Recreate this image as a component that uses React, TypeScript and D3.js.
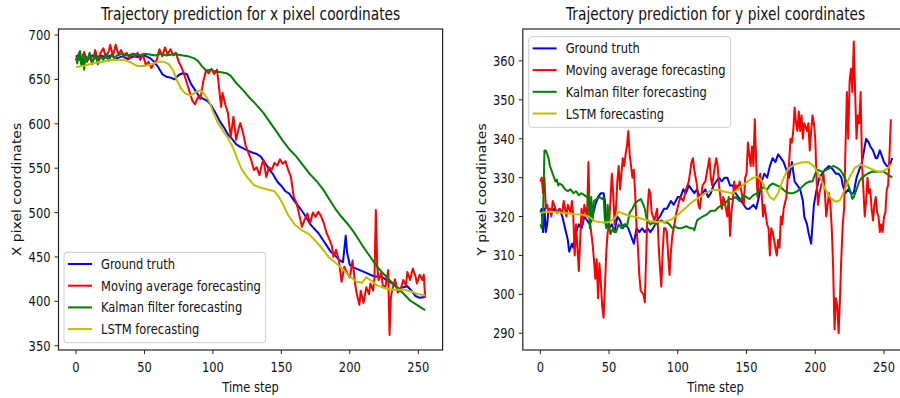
import * as d3 from 'd3';

type Pt = [number, number];

// ---- data: [time step, pixel coordinate] ----

const xTruth: Pt[] = [
  [0, 677], [3, 672], [6, 677], [9, 673], [12, 677], [15, 674], [18, 677], [22, 675], [26, 677], [30, 674],
  [34, 676], [38, 673], [42, 676], [46, 675], [50, 677], [54, 674], [57, 670], [60, 664], [63, 656], [66, 653],
  [69, 652], [72, 650], [75, 655], [78, 657], [81, 656], [84, 645], [87, 638], [90, 631], [93, 628], [96, 626],
  [99, 620], [102, 612], [105, 603], [108, 596], [111, 588], [114, 583], [117, 577], [120, 574], [124, 571], [128, 568],
  [132, 566], [135, 563], [138, 556], [141, 549], [144, 543], [147, 535], [150, 530], [153, 524], [156, 521], [159, 514],
  [162, 508], [165, 502], [168, 495], [171, 487], [174, 482], [177, 477], [180, 470], [183, 463], [186, 456], [189, 452],
  [192, 447], [195, 444], [197, 474], [198, 455], [200, 441], [203, 438], [206, 436], [209, 434], [212, 432], [215, 430],
  [218, 428], [221, 428], [224, 427], [227, 424], [230, 421], [233, 418], [236, 414], [239, 416], [242, 417], [245, 412],
  [248, 406], [251, 404], [255, 405],
];

const xMovingAvg: Pt[] = [
  [0, 672], [2, 678], [4, 668], [6, 681], [8, 670], [10, 676], [12, 667], [14, 683], [16, 672], [18, 680],
  [20, 685], [22, 674], [24, 682], [25, 689], [27, 676], [29, 689], [31, 678], [33, 683], [35, 675], [37, 680],
  [39, 674], [41, 679], [43, 676], [45, 680], [47, 672], [49, 678], [51, 666], [53, 670], [55, 663], [57, 668],
  [59, 672], [61, 684], [63, 676], [65, 686], [67, 678], [69, 684], [71, 677], [73, 680], [75, 670], [77, 664],
  [79, 656], [81, 646], [83, 636], [85, 626], [87, 622], [89, 630], [91, 628], [93, 648], [95, 660], [97, 657],
  [99, 662], [101, 656], [103, 661], [104, 648], [106, 619], [107, 635], [109, 622], [111, 612], [113, 585], [115, 608],
  [117, 582], [119, 596], [120, 601], [122, 590], [124, 575], [126, 567], [128, 559], [130, 548], [132, 551], [134, 542],
  [136, 556], [137, 559], [139, 540], [141, 551], [143, 548], [145, 556], [147, 553], [149, 560], [151, 555], [153, 558],
  [155, 548], [157, 540], [159, 518], [161, 511], [163, 498], [165, 484], [167, 492], [169, 499], [171, 488], [173, 500],
  [175, 495], [177, 501], [179, 496], [181, 488], [183, 477], [185, 470], [187, 462], [188, 450], [190, 458], [192, 446],
  [194, 422], [196, 439], [198, 432], [200, 427], [202, 446], [204, 418], [205, 409], [207, 396], [208, 412], [210, 398],
  [212, 416], [214, 408], [215, 420], [217, 412], [218, 426], [219, 503], [220, 440], [221, 424], [223, 432], [224, 418],
  [226, 416], [228, 435], [229, 362], [230, 405], [231, 413], [233, 425], [235, 410], [237, 413], [239, 424], [241, 418],
  [242, 433], [244, 424], [246, 437], [248, 428], [249, 420], [251, 430], [253, 424], [254, 430], [255, 404],
];

const xKalman: Pt[] = [
  [0, 674], [1, 668], [2, 679], [3, 682], [4, 665], [5, 678], [6, 661], [7, 676], [8, 670], [10, 680],
  [12, 668], [14, 678], [16, 667], [18, 676], [20, 672], [22, 679], [24, 671], [26, 678], [28, 674], [30, 677],
  [34, 679], [38, 677], [42, 679], [46, 677], [50, 679], [54, 678], [58, 677], [62, 679], [66, 677], [70, 678],
  [74, 678], [78, 677], [82, 676], [86, 674], [89, 671], [92, 665], [95, 660], [98, 661], [102, 659], [106, 658],
  [110, 657], [113, 654], [117, 646], [122, 638], [127, 629], [132, 621], [137, 612], [142, 601], [147, 590], [151, 581],
  [156, 571], [161, 563], [166, 553], [171, 543], [176, 535], [181, 525], [185, 515], [190, 503], [194, 495], [198, 488],
  [202, 480], [205, 473], [210, 461], [215, 450], [220, 439], [224, 432], [229, 424], [234, 416], [239, 409], [244, 401],
  [249, 396], [252, 393], [255, 390],
];

const xLstm: Pt[] = [
  [0, 664], [5, 665], [10, 667], [15, 669], [20, 670], [25, 672], [30, 672], [35, 672], [40, 669], [45, 665],
  [50, 665], [55, 667], [60, 670], [64, 670], [68, 667], [71, 660], [74, 648], [77, 639], [80, 634], [84, 632],
  [88, 636], [91, 638], [94, 633], [97, 626], [100, 614], [103, 603], [107, 593], [111, 584], [115, 572], [118, 560],
  [121, 549], [125, 540], [130, 531], [135, 528], [140, 526], [145, 524], [148, 518], [151, 510], [155, 497], [160, 486],
  [165, 480], [170, 476], [175, 468], [180, 459], [185, 449], [190, 443], [195, 436], [200, 428], [205, 422], [209, 421],
  [212, 427], [216, 423], [220, 418], [225, 415], [230, 413], [235, 413], [240, 413], [245, 411], [250, 408], [255, 407],
];

const yTruth: Pt[] = [
  [0, 321], [1, 322], [2, 316], [3, 322], [4, 316], [5, 318], [6, 322], [8, 321], [10, 322], [12, 321],
  [14, 322], [16, 320], [18, 317], [20, 314], [21, 311], [23, 313], [24, 312], [26, 316], [28, 318], [30, 317],
  [32, 320], [34, 319], [36, 318], [38, 320], [40, 323], [42, 325], [44, 326], [46, 326], [47, 324], [48, 318],
  [50, 317], [52, 318], [54, 316], [56, 320], [58, 319], [60, 317], [62, 318], [64, 317], [66, 315], [68, 313],
  [70, 317], [72, 316], [74, 317], [76, 316], [78, 317], [80, 316], [82, 317], [85, 319], [87, 320], [90, 322],
  [92, 322], [95, 324], [97, 323], [100, 325], [102, 325], [104, 327], [106, 326], [108, 328], [110, 327], [112, 326],
  [114, 327], [116, 325], [118, 326], [120, 327], [122, 325], [124, 326], [126, 328], [128, 329], [130, 330], [132, 329],
  [134, 330], [136, 330], [138, 328], [140, 328], [142, 326], [144, 325], [146, 324], [148, 323], [150, 322], [152, 322],
  [155, 323], [157, 322], [159, 325], [161, 329], [163, 331], [165, 330], [167, 333], [169, 335], [171, 334], [173, 336],
  [175, 335], [177, 334], [179, 332], [181, 330], [183, 334], [185, 329], [187, 328], [189, 327], [191, 324], [192, 320],
  [194, 318], [195, 316], [197, 313], [198, 318], [199, 323], [201, 327], [203, 330], [205, 331], [207, 332], [210, 333],
  [213, 332], [215, 331], [217, 331], [219, 330], [220, 328], [222, 326], [224, 327], [226, 326], [228, 326], [230, 330],
  [232, 332], [234, 334], [236, 338], [237, 340], [239, 339], [240, 338], [242, 337], [244, 335], [245, 335], [247, 337],
  [249, 335], [250, 334], [252, 333], [254, 333], [256, 335],
];

const yMovingAvg: Pt[] = [
  [0, 329], [1, 330], [2, 326], [3, 330], [4, 322], [5, 323], [6, 321], [7, 322], [8, 320], [9, 324],
  [11, 322], [12, 321], [14, 322], [16, 321], [17, 324], [19, 320], [20, 323], [22, 321], [23, 324], [24, 320],
  [25, 310], [26, 318], [27, 312], [28, 306], [29, 314], [30, 322], [31, 318], [32, 323], [34, 320], [35, 334],
  [36, 319], [37, 316], [38, 313], [39, 309], [40, 304], [41, 309], [42, 299], [43, 308], [44, 303], [45, 297],
  [46, 294], [47, 302], [48, 311], [49, 316], [50, 318], [51, 324], [52, 331], [53, 326], [54, 318], [55, 322],
  [56, 329], [57, 333], [58, 327], [59, 331], [60, 335], [61, 333], [62, 336], [63, 338], [64, 342], [65, 336],
  [66, 333], [67, 330], [68, 332], [69, 326], [70, 317], [71, 312], [72, 305], [73, 301], [75, 300], [76, 298],
  [77, 310], [78, 322], [79, 327], [80, 326], [81, 321], [82, 320], [83, 319], [85, 322], [86, 313], [87, 307],
  [88, 302], [89, 311], [90, 317], [91, 317], [92, 316], [93, 310], [94, 305], [95, 311], [96, 315], [97, 317],
  [99, 321], [101, 324], [102, 325], [104, 324], [106, 327], [108, 329], [110, 334], [111, 335], [112, 332], [113, 330],
  [114, 328], [115, 323], [116, 322], [117, 325], [118, 328], [120, 329], [121, 331], [123, 335], [124, 330], [125, 328],
  [127, 333], [128, 335], [129, 333], [130, 328], [132, 322], [133, 325], [134, 324], [136, 320], [137, 325], [138, 315],
  [139, 321], [140, 324], [141, 329], [142, 327], [143, 328], [144, 327], [145, 329], [147, 325], [148, 323], [149, 330],
  [150, 331], [151, 339], [152, 336], [153, 333], [154, 338], [155, 333], [156, 345], [157, 334], [158, 325], [159, 330],
  [160, 331], [161, 326], [162, 320], [163, 323], [165, 318], [166, 317], [167, 310], [168, 317], [169, 316], [170, 314],
  [172, 310], [173, 314], [174, 312], [175, 320], [176, 318], [177, 322], [179, 325], [180, 330], [181, 334], [182, 340],
  [183, 339], [184, 342], [185, 348], [186, 344], [187, 342], [188, 347], [189, 342], [190, 346], [191, 340], [192, 344],
  [193, 343], [194, 342], [195, 344], [196, 337], [197, 342], [198, 346], [199, 344], [200, 340], [201, 329], [202, 323],
  [203, 326], [205, 329], [206, 331], [207, 326], [208, 320], [210, 326], [211, 323], [212, 317], [213, 307], [214, 291],
  [215, 299], [216, 297], [217, 290], [218, 299], [219, 310], [220, 318], [221, 322], [222, 338], [223, 352], [224, 340],
  [225, 355], [226, 358], [227, 352], [228, 365], [229, 352], [230, 340], [231, 346], [232, 344], [233, 352], [234, 334],
  [235, 327], [236, 320], [237, 324], [238, 330], [239, 326], [240, 327], [241, 322], [242, 319], [243, 323], [244, 325],
  [245, 321], [246, 320], [247, 316], [248, 318], [249, 316], [250, 320], [251, 321], [252, 327], [253, 328], [254, 336],
  [255, 345],
];

const yKalman: Pt[] = [
  [0, 318], [1, 317], [2, 320], [3, 337], [4, 337], [5, 336], [6, 335], [7, 333], [8, 332], [9, 331],
  [10, 330], [11, 329], [12, 329.5], [13, 328], [14, 328.5], [16, 328], [18, 327], [20, 326.5], [22, 327], [24, 326],
  [26, 326.5], [28, 325.5], [30, 326], [32, 325.5], [34, 325], [35, 326], [36, 317], [37, 325], [38, 319], [39, 324],
  [41, 324.5], [43, 325], [45, 324.5], [46, 325], [47, 319], [48, 317], [49, 323], [50, 318], [51, 315.5], [53, 317],
  [55, 316], [57, 318], [59, 317], [61, 318], [63, 317.5], [65, 321], [67, 322], [69, 323.5], [71, 324], [73, 324.5],
  [75, 323], [76, 322], [77, 320], [78, 319], [80, 318], [82, 318.5], [84, 318], [86, 318.5], [88, 319], [90, 318.5],
  [92, 318.5], [94, 318], [96, 317], [98, 317.5], [100, 317], [103, 317], [106, 317.5], [109, 317], [111, 317], [112, 316.5],
  [114, 319], [116, 319.5], [118, 320], [121, 320.5], [124, 321.5], [127, 321.5], [130, 322.5], [133, 323], [136, 324], [138, 324.5],
  [140, 324.5], [142, 325], [145, 324], [148, 325.5], [150, 325], [152, 324.5], [155, 325.5], [158, 326], [160, 327], [162, 327.5],
  [165, 327], [167, 328], [169, 328.5], [172, 328], [175, 327.5], [178, 326.5], [181, 326], [184, 326], [187, 326.5], [190, 327.5],
  [193, 328.5], [196, 329], [198, 329], [200, 331], [202, 332], [205, 331.5], [208, 332], [211, 332.5], [213, 333], [216, 332.5],
  [218, 332], [220, 331], [222, 329.5], [224, 328], [226, 326], [227, 324.5], [228, 325], [230, 327], [232, 329], [234, 330],
  [236, 330.5], [238, 331], [241, 331.5], [244, 331.5], [247, 331.5], [250, 331.5], [252, 331], [254, 330.5], [256, 330],
];

const yLstm: Pt[] = [
  [0, 321], [5, 321.2], [10, 321.2], [15, 321], [20, 320.8], [25, 320.6], [30, 320.5], [35, 320], [40, 318.8], [45, 318.5],
  [50, 318.6], [54, 319.5], [57, 321.2], [60, 320.8], [65, 320.2], [70, 319.8], [75, 319.3], [80, 318.8], [85, 318.6], [90, 318.6],
  [95, 319.2], [100, 320.4], [105, 322], [110, 323.6], [115, 324.8], [120, 326], [125, 326.8], [130, 326.8], [135, 326.3], [140, 326],
  [145, 327.4], [150, 328.8], [155, 330], [158, 330.2], [161, 329.2], [164, 327], [167, 325], [170, 324.3], [173, 326], [176, 329],
  [180, 332.2], [185, 333.4], [190, 333.9], [195, 334], [199, 333], [203, 330.5], [207, 327.2], [211, 324.8], [215, 323.8], [218, 324.2],
  [221, 326.5], [225, 330.2], [229, 332.6], [233, 333.3], [237, 332.8], [241, 332.2], [245, 331.6], [248, 331.4], [252, 332.2], [256, 333.6],
];

const legendLabels = ['Ground truth', 'Moving average forecasting', 'Kalman filter forecasting', 'LSTM forecasting'];
const seriesColors = ['#0000ff', '#ff0000', '#008000', '#bfbf00'];
const timeTicks = [0, 50, 100, 150, 200, 250];
const xCoordTicks = [350, 400, 450, 500, 550, 600, 650, 700];
const yCoordTicks = [290, 300, 310, 320, 330, 340, 350, 360];

// the reference is squeezed horizontally, so text gets a matching x scale
const SX = 0.82;
const FONT = "'DejaVu Sans', sans-serif";

function Txt({ x, y, size = 14, anchor = 'start', rotate = false, children }: any) {
  return (
    <text
      transform={`translate(${x},${y}) scale(${SX},1)${rotate ? ' rotate(-90)' : ''}`}
      fontSize={size}
      fontFamily={FONT}
      textAnchor={anchor}
      fill="#111"
    >
      {children}
    </text>
  );
}

interface PanelProps {
  id: string;
  left: number;
  right: number;
  yDomain: [number, number];
  yTicks: number[];
  series: Pt[][];
  title: string;
  yLabel: string;
  yLabelX: number;
  legendBox: { x: number; y: number; w: number; h: number };
}

const TOP = 29;
const BOTTOM = 350;

function Panel({ id, left, right, yDomain, yTicks, series, title, yLabel, yLabelX, legendBox }: PanelProps) {
  const x = d3.scaleLinear().domain([-12.75, 267.75]).range([left, right]);
  const y = d3.scaleLinear().domain(yDomain).range([BOTTOM, TOP]);
  const line = d3
    .line<Pt>()
    .x((d) => x(d[0]))
    .y((d) => y(d[1]));

  const rowH = 21.7;
  const lb = legendBox;

  return (
    <g>
      <defs>
        <clipPath id={id}>
          <rect x={left} y={TOP} width={right - left} height={BOTTOM - TOP} />
        </clipPath>
      </defs>

      <g clipPath={`url(#${id})`}>
        {series.map((s, i) => (
          <path
            key={i}
            d={line(s) ?? ''}
            fill="none"
            stroke={seriesColors[i]}
            strokeWidth={2}
            strokeLinejoin="round"
          />
        ))}
      </g>

      <rect x={left} y={TOP} width={right - left} height={BOTTOM - TOP} fill="none" stroke="#222" strokeWidth={1.2} />

      {timeTicks.map((t) => (
        <g key={t}>
          <line x1={x(t)} x2={x(t)} y1={BOTTOM} y2={BOTTOM + 4} stroke="#222" strokeWidth={1} />
          <Txt x={x(t)} y={372} anchor="middle">
            {t}
          </Txt>
        </g>
      ))}
      {yTicks.map((v) => (
        <g key={v}>
          <line x1={left - 4} x2={left} y1={y(v)} y2={y(v)} stroke="#222" strokeWidth={1} />
          <Txt x={left - 8} y={y(v) + 5} anchor="end">
            {v}
          </Txt>
        </g>
      ))}

      <Txt x={(left + right) / 2} y={20} size={16.8} anchor="middle">
        {title}
      </Txt>
      <Txt x={(left + right) / 2} y={392} anchor="middle">
        Time step
      </Txt>
      <Txt x={yLabelX} y={(TOP + BOTTOM) / 2} anchor="middle" rotate>
        {yLabel}
      </Txt>

      <rect x={lb.x} y={lb.y} width={lb.w} height={lb.h} rx={3} fill="#fff" fillOpacity={0.8} stroke="#cccccc" strokeWidth={1} />
      {legendLabels.map((label, i) => {
        const cy = lb.y + 11.7 + i * rowH;
        return (
          <g key={label}>
            <line x1={lb.x + 4} x2={lb.x + 28} y1={cy} y2={cy} stroke={seriesColors[i]} strokeWidth={2} />
            <Txt x={lb.x + 37} y={cy + 5}>
              {label}
            </Txt>
          </g>
        );
      })}
    </g>
  );
}

export default function App() {
  return (
    <svg
      width={900}
      height={398}
      viewBox="0 0 900 398"
      style={{ position: 'absolute', left: 0, top: 0, background: '#fff' }}
    >
      <rect width={900} height={398} fill="#fff" />
      <Panel
        id="clip-x"
        left={58.5}
        right={442.6}
        yDomain={[345.2, 706.8]}
        yTicks={xCoordTicks}
        series={[xTruth, xMovingAvg, xKalman, xLstm]}
        title="Trajectory prediction for x pixel coordinates"
        yLabel="X pixel coordinates"
        yLabelX={21}
        legendBox={{ x: 64, y: 252.3, w: 201.7, h: 90.4 }}
      />
      <Panel
        id="clip-y"
        left={522.8}
        right={908.4}
        yDomain={[285.7, 368.2]}
        yTicks={yCoordTicks}
        series={[yTruth, yMovingAvg, yKalman, yLstm]}
        title="Trajectory prediction for y pixel coordinates"
        yLabel="Y pixel coordinates"
        yLabelX={486}
        legendBox={{ x: 528.7, y: 36.7, w: 202, h: 90.6 }}
      />
    </svg>
  );
}
